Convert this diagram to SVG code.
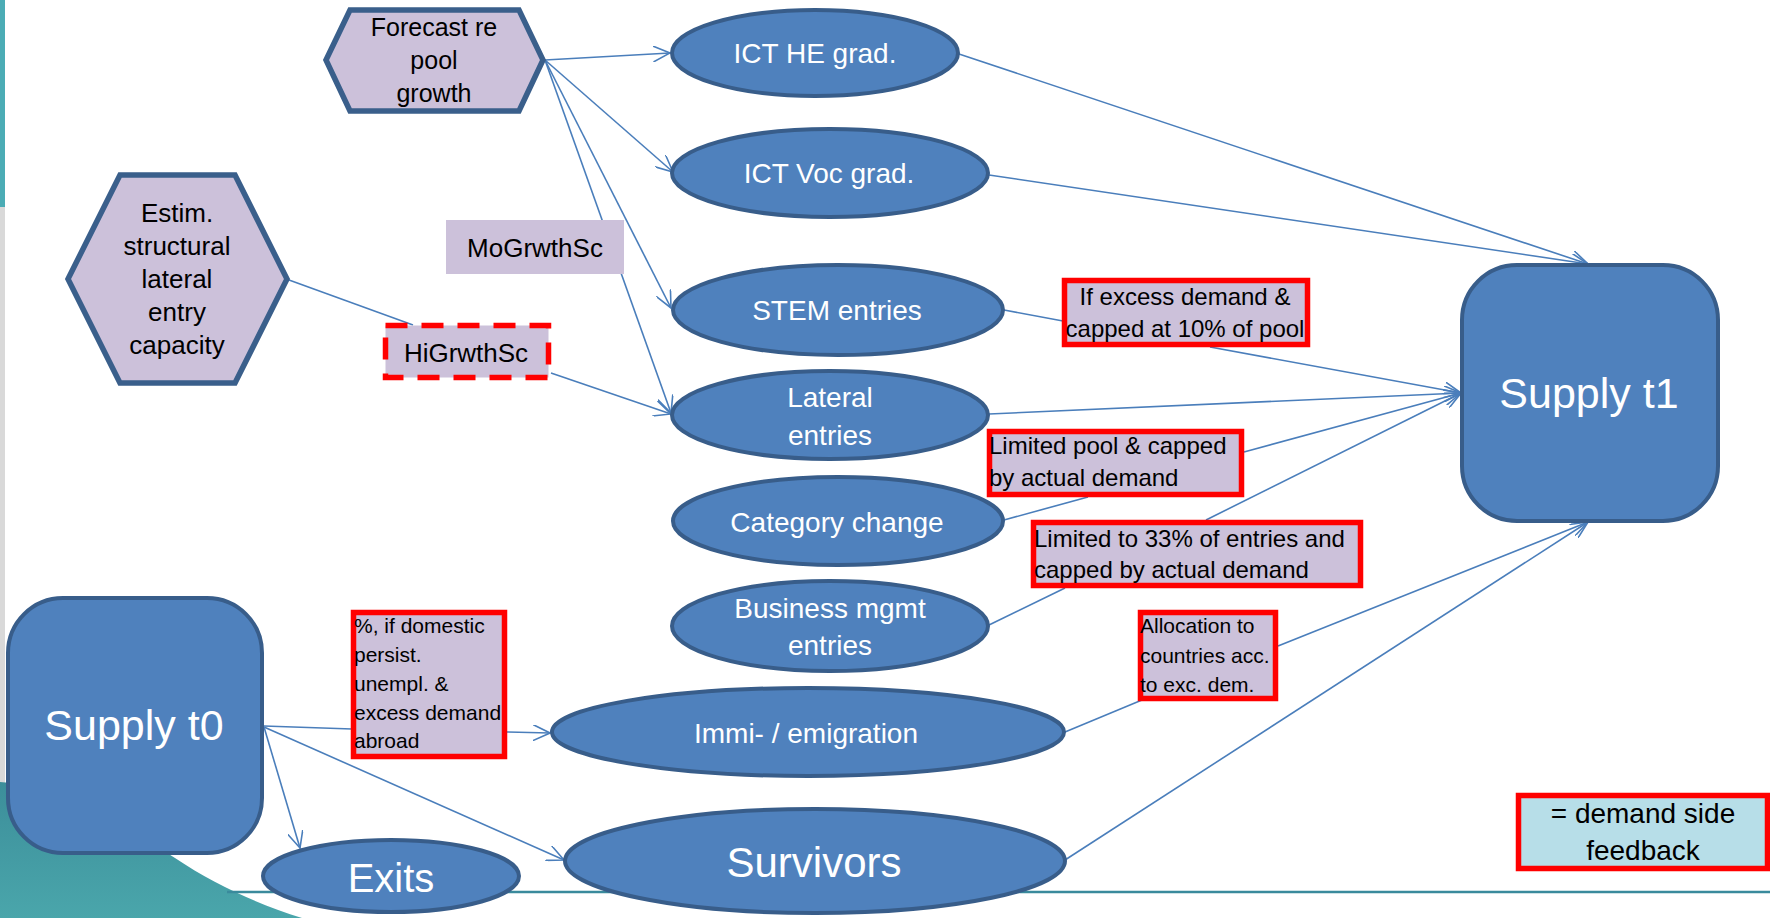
<svg xmlns="http://www.w3.org/2000/svg" width="1770" height="918" viewBox="0 0 1770 918">
<defs>
<linearGradient id="tealg" x1="0" y1="0" x2="0" y2="1">
<stop offset="0" stop-color="#3C8E9A"/>
<stop offset="1" stop-color="#4AA6AB"/>
</linearGradient>
<marker id="arr" markerUnits="userSpaceOnUse" viewBox="0 0 18 16" refX="17" refY="8" markerWidth="18" markerHeight="16" orient="auto">
<path d="M0,0 L17,8 L0,16" fill="none" stroke="#4A7EBB" stroke-width="1.6"/>
</marker>
</defs>
<style>
.lav{fill:#CCC1DA;stroke:#3A5F8B;stroke-width:5.5;stroke-linejoin:miter}
.blue{fill:#4F81BD;stroke:#385D8A;stroke-width:4}
.red{fill:#CCC1DA;stroke:#FF0000;stroke-width:5.5}
.dash{fill:#CCC1DA;stroke:#FF0000;stroke-width:5.5;stroke-dasharray:22 14}
.bt{font-family:"Liberation Sans",Arial,sans-serif;fill:#000}
.wt{font-family:"Liberation Sans",Arial,sans-serif;fill:#FFFFFF;font-size:28px;text-anchor:middle}
.c{text-anchor:middle}
.ln{stroke:#4A7EBB;stroke-width:1.6;fill:none}
</style>
<rect width="1770" height="918" fill="#FFFFFF"/>
<g id="background">
<rect x="0" y="0" width="5" height="207" fill="#4BACB5"/>
<rect x="0" y="207" width="5" height="580" fill="#D9D9D9"/>
<path d="M0,782 C90,790 140,835 175,858 C215,885 260,905 302,918 L0,918 Z" fill="url(#tealg)"/>
<line x1="227" y1="892" x2="1770" y2="892" stroke="#3A8A9C" stroke-width="2.5"/>
</g>
<g id="connectors">
<line class="ln" x1="545" y1="60" x2="670" y2="53" marker-end="url(#arr)"/>
<line class="ln" x1="545" y1="60" x2="673" y2="172" marker-end="url(#arr)"/>
<line class="ln" x1="545" y1="60" x2="671" y2="308" marker-end="url(#arr)"/>
<line class="ln" x1="545" y1="60" x2="671" y2="413" marker-end="url(#arr)"/>
<line class="ln" x1="289" y1="280" x2="413" y2="325"/>
<line class="ln" x1="551" y1="373" x2="671" y2="414" marker-end="url(#arr)"/>
<line class="ln" x1="959" y1="54" x2="1588" y2="264" marker-end="url(#arr)"/>
<line class="ln" x1="989" y1="175" x2="1588" y2="264" marker-end="url(#arr)"/>
<line class="ln" x1="1004" y1="310" x2="1063" y2="321"/>
<line class="ln" x1="1210" y1="347" x2="1461" y2="393" marker-end="url(#arr)"/>
<line class="ln" x1="989" y1="414" x2="1461" y2="393" marker-end="url(#arr)"/>
<line class="ln" x1="1004" y1="520" x2="1088" y2="497"/>
<line class="ln" x1="1244" y1="452" x2="1461" y2="393" marker-end="url(#arr)"/>
<line class="ln" x1="989" y1="625" x2="1065" y2="588"/>
<line class="ln" x1="1206" y1="520" x2="1461" y2="393" marker-end="url(#arr)"/>
<line class="ln" x1="1065" y1="732" x2="1142" y2="700"/>
<line class="ln" x1="1278" y1="646" x2="1588" y2="522" marker-end="url(#arr)"/>
<line class="ln" x1="1065" y1="860" x2="1588" y2="522" marker-end="url(#arr)"/>
<line class="ln" x1="264" y1="726" x2="352" y2="729"/>
<line class="ln" x1="507" y1="732" x2="550" y2="733" marker-end="url(#arr)"/>
<line class="ln" x1="264" y1="727" x2="300" y2="848" marker-end="url(#arr)"/>
<line class="ln" x1="264" y1="727" x2="564" y2="860" marker-end="url(#arr)"/>
</g>
<g id="forecast">
<polygon class="lav" points="326,60 350,10 519,10 543,60 519,111 350,111"/>
<text class="bt c" font-size="25" x="434" y="36">Forecast re</text>
<text class="bt c" font-size="25" x="434" y="69">pool</text>
<text class="bt c" font-size="25" x="434" y="102">growth</text>
</g>
<g id="estim">
<polygon class="lav" points="68,279 120,175 235,175 287,279 235,383 120,383"/>
<text class="bt c" font-size="26" x="177" y="222">Estim.</text>
<text class="bt c" font-size="26" x="177" y="255">structural</text>
<text class="bt c" font-size="26" x="177" y="288">lateral</text>
<text class="bt c" font-size="26" x="177" y="321">entry</text>
<text class="bt c" font-size="26" x="177" y="354">capacity</text>
</g>
<g id="mogrwth">
<rect x="446" y="220" width="178" height="54" fill="#CCC1DA"/>
<text class="bt c" font-size="26" x="535" y="257">MoGrwthSc</text>
</g>
<g id="higrwth">
<rect class="dash" x="385.5" y="325.5" width="163" height="52"/>
<text class="bt c" font-size="26" x="466" y="362">HiGrwthSc</text>
</g>
<g id="ict-he">
<ellipse class="blue" cx="815" cy="53" rx="143" ry="43"/>
<text class="wt" x="815" y="63">ICT HE grad.</text>
</g>
<g id="ict-voc">
<ellipse class="blue" cx="830" cy="173" rx="158" ry="44"/>
<text class="wt" x="829" y="183">ICT Voc grad.</text>
</g>
<g id="stem">
<ellipse class="blue" cx="838" cy="310" rx="165" ry="45"/>
<text class="wt" x="837" y="320">STEM entries</text>
</g>
<g id="lateral">
<ellipse class="blue" cx="830" cy="415" rx="158" ry="44"/>
<text class="wt" x="830" y="407">Lateral</text>
<text class="wt" x="830" y="445">entries</text>
</g>
<g id="category">
<ellipse class="blue" cx="838" cy="521" rx="165" ry="44"/>
<text class="wt" x="837" y="532">Category change</text>
</g>
<g id="business">
<ellipse class="blue" cx="830" cy="626" rx="158" ry="45"/>
<text class="wt" x="830" y="618">Business mgmt</text>
<text class="wt" x="830" y="655">entries</text>
</g>
<g id="immi">
<ellipse class="blue" cx="808" cy="732" rx="256" ry="44"/>
<text class="wt" x="806" y="743">Immi- / emigration</text>
</g>
<g id="survivors">
<ellipse class="blue" cx="815" cy="861" rx="250" ry="52"/>
<text class="wt" style="font-size:42px" x="814" y="877">Survivors</text>
</g>
<g id="exits">
<ellipse class="blue" cx="391" cy="876" rx="128" ry="36"/>
<text class="wt" style="font-size:40px" x="391" y="892">Exits</text>
</g>
<g id="supply-t0">
<rect class="blue" x="8" y="598" width="254" height="255" rx="55"/>
<text class="wt" style="font-size:43px" x="134" y="740">Supply t0</text>
</g>
<g id="supply-t1">
<rect class="blue" x="1462" y="265" width="256" height="256" rx="55"/>
<text class="wt" style="font-size:43px" x="1589" y="408">Supply t1</text>
</g>
<g id="fb-stem">
<rect class="red" x="1064.5" y="280.5" width="243" height="64"/>
<text class="bt c" font-size="24" x="1185" y="305">If excess demand &amp;</text>
<text class="bt c" font-size="24" x="1185" y="337">capped at 10% of pool</text>
</g>
<g id="fb-category">
<rect class="red" x="989.5" y="431.5" width="252" height="63"/>
<text class="bt" font-size="24" x="989" y="454">Limited pool &amp; capped</text>
<text class="bt" font-size="24" x="989" y="486">by actual demand</text>
</g>
<g id="fb-business">
<rect class="red" x="1033.5" y="522.5" width="327" height="63"/>
<text class="bt" font-size="24" x="1034" y="547">Limited to 33% of entries and</text>
<text class="bt" font-size="24" x="1034" y="578">capped by actual demand</text>
</g>
<g id="fb-allocation">
<rect class="red" x="1140.5" y="612.5" width="135" height="86"/>
<text class="bt" font-size="21" x="1140" y="633">Allocation to</text>
<text class="bt" font-size="21" x="1140" y="663">countries acc.</text>
<text class="bt" font-size="21" x="1140" y="692">to exc. dem.</text>
</g>
<g id="fb-migration">
<rect class="red" x="353.5" y="612.5" width="151" height="144"/>
<text class="bt" font-size="21" x="354" y="633">%, if domestic</text>
<text class="bt" font-size="21" x="354" y="662">persist.</text>
<text class="bt" font-size="21" x="354" y="691">unempl. &amp;</text>
<text class="bt" font-size="21" x="354" y="720">excess demand</text>
<text class="bt" font-size="21" x="354" y="748">abroad</text>
</g>
<g id="legend">
<rect x="1518.5" y="795.5" width="249" height="73" fill="#B7DEE8" stroke="#FF0000" stroke-width="5.5"/>
<text class="bt c" font-size="28" x="1643" y="823">= demand side</text>
<text class="bt c" font-size="28" x="1643" y="860">feedback</text>
</g>
</svg>
